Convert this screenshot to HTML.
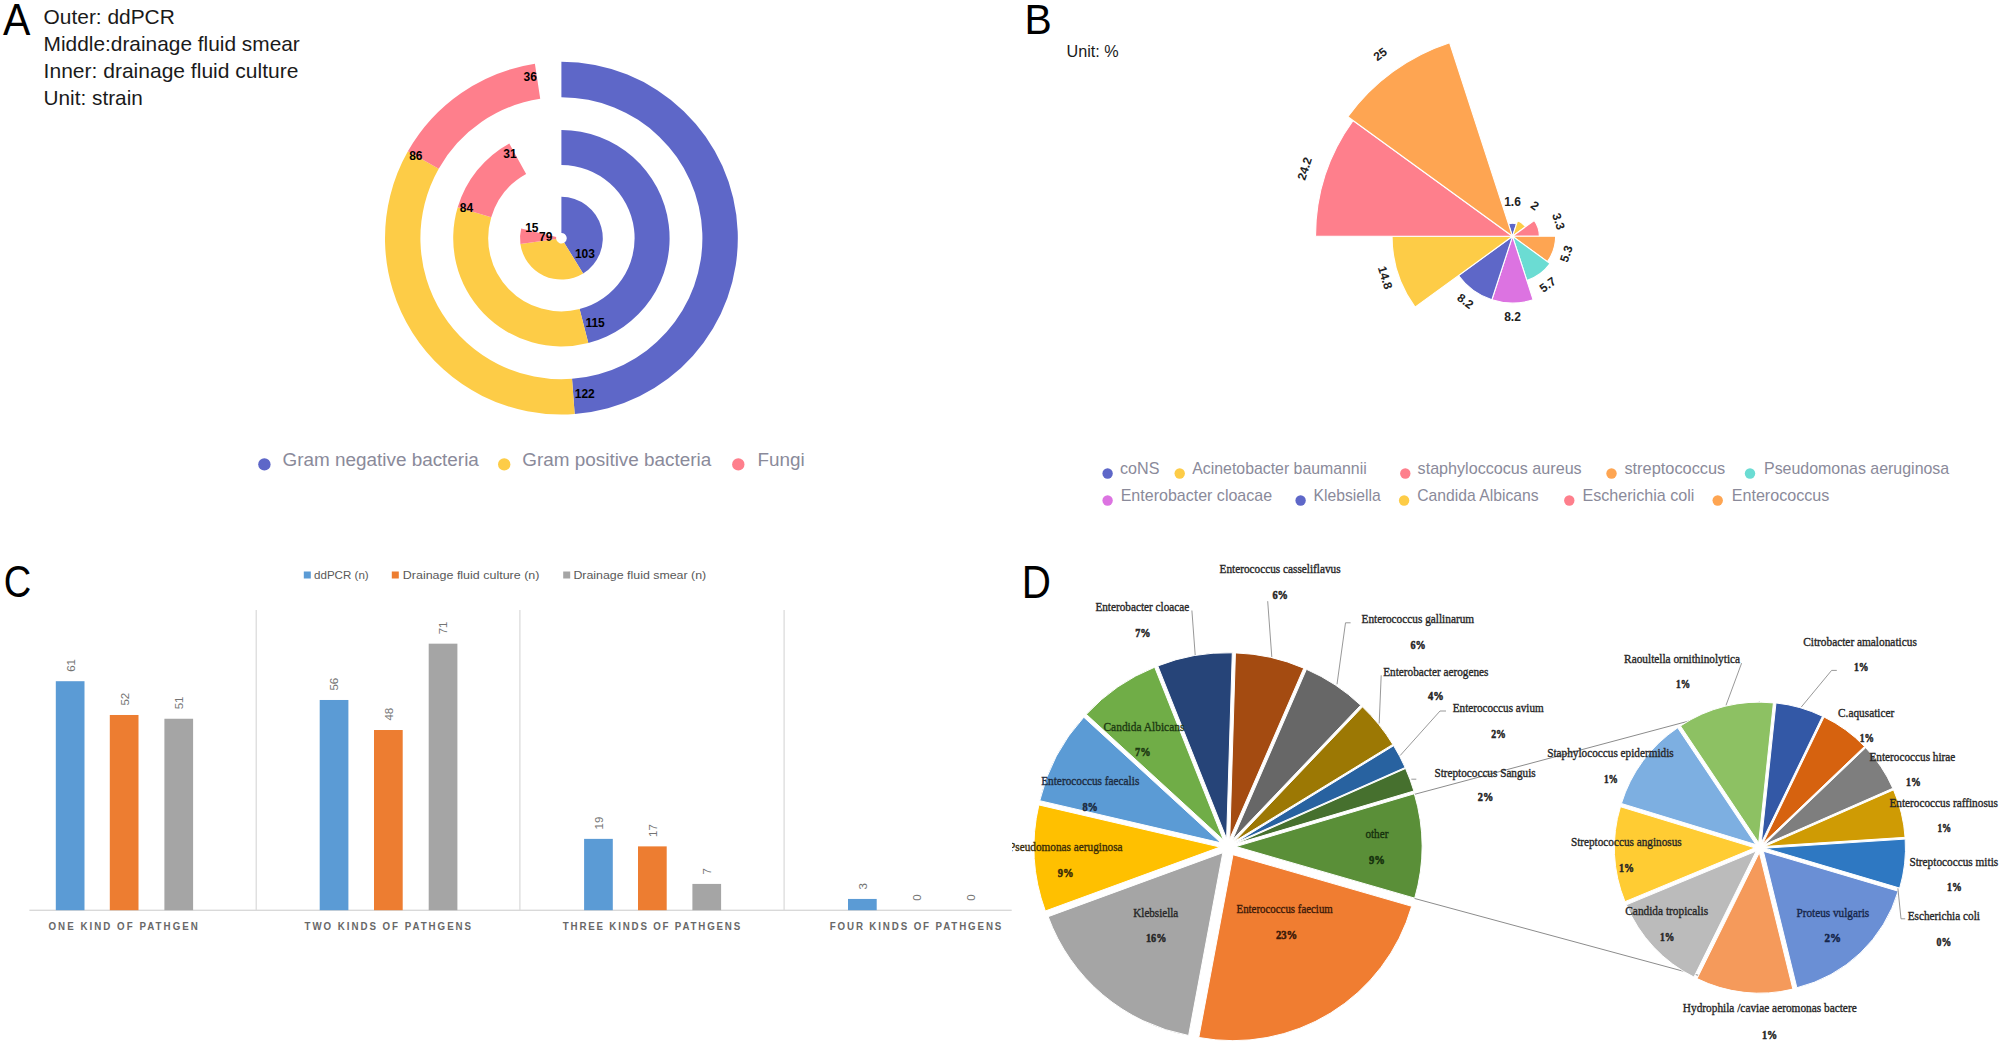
<!DOCTYPE html>
<html><head><meta charset="utf-8"><title>Figure</title>
<style>html,body{margin:0;padding:0;background:#fff;width:2002px;height:1046px;overflow:hidden}svg{display:block}</style>
</head><body>
<svg width="2002" height="1046" viewBox="0 0 2002 1046">
<rect width="2002" height="1046" fill="#fff"/>
<text x="0" y="0" font-size="44.64" fill="#000" font-family="'Liberation Sans',Arial,sans-serif" transform="translate(3 34.5) scale(0.92 1)">A</text>
<text x="43.6" y="23.7" font-size="20.8" fill="#1a1a1a" font-family="'Liberation Sans',Arial,sans-serif" textLength="131.2" lengthAdjust="spacingAndGlyphs">Outer: ddPCR</text>
<text x="43.6" y="51" font-size="20.8" fill="#1a1a1a" font-family="'Liberation Sans',Arial,sans-serif" textLength="256.2" lengthAdjust="spacingAndGlyphs">Middle:drainage fluid smear</text>
<text x="43.6" y="78.2" font-size="20.8" fill="#1a1a1a" font-family="'Liberation Sans',Arial,sans-serif" textLength="254.8" lengthAdjust="spacingAndGlyphs">Inner: drainage fluid culture</text>
<text x="43.6" y="105.3" font-size="20.8" fill="#1a1a1a" font-family="'Liberation Sans',Arial,sans-serif" textLength="99.2" lengthAdjust="spacingAndGlyphs">Unit: strain</text>
<path d="M561.4 196.8A41.4 41.4 0 0 1 583.14 273.43L564.18 242.71A5.3 5.3 0 0 0 561.4 232.9Z" fill="#5E67C8"/>
<path d="M583.14 273.43A41.4 41.4 0 0 1 520.39 243.9L556.15 238.93A5.3 5.3 0 0 0 564.18 242.71Z" fill="#FDCC47"/>
<path d="M520.39 243.9A41.4 41.4 0 0 1 521.17 228.41L556.25 236.95A5.3 5.3 0 0 0 556.15 238.93Z" fill="#FE7F8C"/>
<path d="M561.4 130A108.2 108.2 0 0 1 588.31 343L579.6 309.1A73.2 73.2 0 0 0 561.4 165Z" fill="#5E67C8"/>
<path d="M588.31 343A108.2 108.2 0 0 1 457.69 207.36L491.24 217.34A73.2 73.2 0 0 0 579.6 309.1Z" fill="#FDCC47"/>
<path d="M457.69 207.36A108.2 108.2 0 0 1 509.27 143.38L526.14 174.05A73.2 73.2 0 0 0 491.24 217.34Z" fill="#FE7F8C"/>
<path d="M561.4 61.8A176.4 176.4 0 0 1 574.69 414.1L572.02 378.8A141 141 0 0 0 561.4 97.2Z" fill="#5E67C8"/>
<path d="M574.69 414.1A176.4 176.4 0 0 1 407.9 151.28L438.7 168.73A141 141 0 0 0 572.02 378.8Z" fill="#FDCC47"/>
<path d="M407.9 151.28A176.4 176.4 0 0 1 534.9 63.8L540.22 98.8A141 141 0 0 0 438.7 168.73Z" fill="#FE7F8C"/>
<text x="530.25" y="81.4" font-size="12" fill="#000" font-family="'Liberation Sans',Arial,sans-serif" font-weight="bold" text-anchor="middle">36</text>
<text x="415.85" y="160.2" font-size="12" fill="#000" font-family="'Liberation Sans',Arial,sans-serif" font-weight="bold" text-anchor="middle">86</text>
<text x="510" y="158.4" font-size="12" fill="#000" font-family="'Liberation Sans',Arial,sans-serif" font-weight="bold" text-anchor="middle">31</text>
<text x="466.55" y="212.4" font-size="12" fill="#000" font-family="'Liberation Sans',Arial,sans-serif" font-weight="bold" text-anchor="middle">84</text>
<text x="584.9" y="258.3" font-size="12" fill="#000" font-family="'Liberation Sans',Arial,sans-serif" font-weight="bold" text-anchor="middle">103</text>
<text x="595.1" y="327.1" font-size="12" fill="#000" font-family="'Liberation Sans',Arial,sans-serif" font-weight="bold" text-anchor="middle">115</text>
<text x="584.75" y="397.5" font-size="12" fill="#000" font-family="'Liberation Sans',Arial,sans-serif" font-weight="bold" text-anchor="middle">122</text>
<text x="531.85" y="232.2" font-size="12" fill="#000" font-family="'Liberation Sans',Arial,sans-serif" font-weight="bold" text-anchor="middle">15</text>
<text x="545.65" y="241.3" font-size="12" fill="#000" font-family="'Liberation Sans',Arial,sans-serif" font-weight="bold" text-anchor="middle">79</text>
<circle cx="264.4" cy="464.4" r="6.2" fill="#5E67C8"/>
<text x="282.5" y="465.8" font-size="18.9" fill="#8a8a9a" font-family="'Liberation Sans',Arial,sans-serif">Gram negative bacteria</text>
<circle cx="504.2" cy="464.4" r="6.2" fill="#FDCC47"/>
<text x="522.3" y="465.8" font-size="18.9" fill="#8a8a9a" font-family="'Liberation Sans',Arial,sans-serif">Gram positive bacteria</text>
<circle cx="738.3" cy="464.4" r="6.2" fill="#FE7F8C"/>
<text x="757.5" y="465.8" font-size="18.9" fill="#8a8a9a" font-family="'Liberation Sans',Arial,sans-serif">Fungi</text>
<text x="0" y="0" font-size="42.17" fill="#000" font-family="'Liberation Sans',Arial,sans-serif" transform="translate(1024.52 33.8) scale(0.97 1)">B</text>
<text x="1066.5" y="57.4" font-size="16.2" fill="#1a1a1a" font-family="'Liberation Sans',Arial,sans-serif">Unit: %</text>
<path d="M1512.5 236.3L1508.48 223.91A13.02 13.02 0 0 1 1516.52 223.91Z" fill="#5E67C8" stroke="#fff" stroke-width="1.1" stroke-linejoin="round"/>
<path d="M1512.5 236.3L1517.53 220.82A16.28 16.28 0 0 1 1525.67 226.73Z" fill="#FDCC47" stroke="#fff" stroke-width="1.1" stroke-linejoin="round"/>
<path d="M1512.5 236.3L1534.23 220.51A26.86 26.86 0 0 1 1539.36 236.3Z" fill="#FE7F8C" stroke="#fff" stroke-width="1.1" stroke-linejoin="round"/>
<path d="M1512.5 236.3L1555.64 236.3A43.14 43.14 0 0 1 1547.4 261.66Z" fill="#FEA552" stroke="#fff" stroke-width="1.1" stroke-linejoin="round"/>
<path d="M1512.5 236.3L1550.04 263.57A46.4 46.4 0 0 1 1526.84 280.43Z" fill="#6BDCD3" stroke="#fff" stroke-width="1.1" stroke-linejoin="round"/>
<path d="M1512.5 236.3L1533.13 299.78A66.75 66.75 0 0 1 1491.87 299.78Z" fill="#DC73E1" stroke="#fff" stroke-width="1.1" stroke-linejoin="round"/>
<path d="M1512.5 236.3L1491.87 299.78A66.75 66.75 0 0 1 1458.5 275.53Z" fill="#5E67C8" stroke="#fff" stroke-width="1.1" stroke-linejoin="round"/>
<path d="M1512.5 236.3L1415.04 307.11A120.47 120.47 0 0 1 1392.03 236.3Z" fill="#FDCC47" stroke="#fff" stroke-width="1.1" stroke-linejoin="round"/>
<path d="M1512.5 236.3L1315.51 236.3A196.99 196.99 0 0 1 1353.13 120.51Z" fill="#FE7F8C" stroke="#fff" stroke-width="1.1" stroke-linejoin="round"/>
<path d="M1512.5 236.3L1347.87 116.69A203.5 203.5 0 0 1 1449.62 42.76Z" fill="#FEA552" stroke="#fff" stroke-width="1.1" stroke-linejoin="round"/>
<text x="0" y="0" font-size="12" font-weight="bold" fill="#222" font-family="'Liberation Sans',Arial,sans-serif" text-anchor="middle" transform="translate(1512.5 205.78) rotate(0)">1.6</text>
<text x="0" y="0" font-size="12" font-weight="bold" fill="#222" font-family="'Liberation Sans',Arial,sans-serif" text-anchor="middle" transform="translate(1532.36 208.97) rotate(36)">2</text>
<text x="0" y="0" font-size="12" font-weight="bold" fill="#222" font-family="'Liberation Sans',Arial,sans-serif" text-anchor="middle" transform="translate(1554.69 222.59) rotate(72)">3.3</text>
<text x="0" y="0" font-size="12" font-weight="bold" fill="#222" font-family="'Liberation Sans',Arial,sans-serif" text-anchor="middle" transform="translate(1570.17 255.04) rotate(-72)">5.3</text>
<text x="0" y="0" font-size="12" font-weight="bold" fill="#222" font-family="'Liberation Sans',Arial,sans-serif" text-anchor="middle" transform="translate(1550.06 287.99) rotate(-36)">5.7</text>
<text x="0" y="0" font-size="12" font-weight="bold" fill="#222" font-family="'Liberation Sans',Arial,sans-serif" text-anchor="middle" transform="translate(1512.5 320.55) rotate(0)">8.2</text>
<text x="0" y="0" font-size="12" font-weight="bold" fill="#222" font-family="'Liberation Sans',Arial,sans-serif" text-anchor="middle" transform="translate(1462.98 304.46) rotate(36)">8.2</text>
<text x="0" y="0" font-size="12" font-weight="bold" fill="#222" font-family="'Liberation Sans',Arial,sans-serif" text-anchor="middle" transform="translate(1381.28 278.94) rotate(72)">14.8</text>
<text x="0" y="0" font-size="12" font-weight="bold" fill="#222" font-family="'Liberation Sans',Arial,sans-serif" text-anchor="middle" transform="translate(1308.51 170.02) rotate(-72)">24.2</text>
<text x="0" y="0" font-size="12" font-weight="bold" fill="#222" font-family="'Liberation Sans',Arial,sans-serif" text-anchor="middle" transform="translate(1382.6 57.51) rotate(-36)">25</text>
<circle cx="1107.6" cy="473.5" r="5.2" fill="#5E67C8"/>
<text x="1120" y="474.3" font-size="15.9" fill="#8a8a9a" font-family="'Liberation Sans',Arial,sans-serif" textLength="39.4" lengthAdjust="spacingAndGlyphs">coNS</text>
<circle cx="1179.7" cy="473.5" r="5.2" fill="#FDCC47"/>
<text x="1192.3" y="474.3" font-size="15.9" fill="#8a8a9a" font-family="'Liberation Sans',Arial,sans-serif" textLength="174.4" lengthAdjust="spacingAndGlyphs">Acinetobacter baumannii</text>
<circle cx="1405.3" cy="473.5" r="5.2" fill="#FE7F8C"/>
<text x="1417.6" y="474.3" font-size="15.9" fill="#8a8a9a" font-family="'Liberation Sans',Arial,sans-serif" textLength="164.1" lengthAdjust="spacingAndGlyphs">staphyloccocus aureus</text>
<circle cx="1611.5" cy="473.5" r="5.2" fill="#FEA552"/>
<text x="1624.4" y="474.3" font-size="15.9" fill="#8a8a9a" font-family="'Liberation Sans',Arial,sans-serif" textLength="100.9" lengthAdjust="spacingAndGlyphs">streptococcus</text>
<circle cx="1750" cy="473.5" r="5.2" fill="#6BDCD3"/>
<text x="1764" y="474.3" font-size="15.9" fill="#8a8a9a" font-family="'Liberation Sans',Arial,sans-serif" textLength="185.2" lengthAdjust="spacingAndGlyphs">Pseudomonas aeruginosa</text>
<circle cx="1107.6" cy="500.5" r="5.2" fill="#DC73E1"/>
<text x="1120.7" y="501.3" font-size="15.9" fill="#8a8a9a" font-family="'Liberation Sans',Arial,sans-serif" textLength="151.4" lengthAdjust="spacingAndGlyphs">Enterobacter cloacae</text>
<circle cx="1300.6" cy="500.5" r="5.2" fill="#5E67C8"/>
<text x="1313.6" y="501.3" font-size="15.9" fill="#8a8a9a" font-family="'Liberation Sans',Arial,sans-serif" textLength="67.2" lengthAdjust="spacingAndGlyphs">Klebsiella</text>
<circle cx="1404.1" cy="500.5" r="5.2" fill="#FDCC47"/>
<text x="1417.2" y="501.3" font-size="15.9" fill="#8a8a9a" font-family="'Liberation Sans',Arial,sans-serif" textLength="121.4" lengthAdjust="spacingAndGlyphs">Candida Albicans</text>
<circle cx="1569.3" cy="500.5" r="5.2" fill="#FE7F8C"/>
<text x="1582.4" y="501.3" font-size="15.9" fill="#8a8a9a" font-family="'Liberation Sans',Arial,sans-serif" textLength="112" lengthAdjust="spacingAndGlyphs">Escherichia coli</text>
<circle cx="1717.7" cy="500.5" r="5.2" fill="#FEA552"/>
<text x="1731.7" y="501.3" font-size="15.9" fill="#8a8a9a" font-family="'Liberation Sans',Arial,sans-serif" textLength="97.7" lengthAdjust="spacingAndGlyphs">Enterococcus</text>
<text x="0" y="0" font-size="44.79" fill="#000" font-family="'Liberation Sans',Arial,sans-serif" transform="translate(3.79 597.35) scale(0.85 1)">C</text>
<rect x="303.8" y="571.5" width="7" height="7" fill="#5B9BD5"/>
<text x="314" y="579" font-size="11.8" fill="#595959" font-family="'Liberation Sans',Arial,sans-serif" textLength="54.7" lengthAdjust="spacingAndGlyphs">ddPCR (n)</text>
<rect x="391.8" y="571.5" width="7" height="7" fill="#ED7D31"/>
<text x="402.8" y="579" font-size="11.8" fill="#595959" font-family="'Liberation Sans',Arial,sans-serif" textLength="136.6" lengthAdjust="spacingAndGlyphs">Drainage fluid culture (n)</text>
<rect x="563.2" y="571.5" width="7" height="7" fill="#A5A5A5"/>
<text x="573.4" y="579" font-size="11.8" fill="#595959" font-family="'Liberation Sans',Arial,sans-serif" textLength="132.8" lengthAdjust="spacingAndGlyphs">Drainage fluid smear (n)</text>
<rect x="255.6" y="610" width="1.2" height="300.5" fill="#D9D9D9"/>
<rect x="519.3" y="610" width="1.2" height="300.5" fill="#D9D9D9"/>
<rect x="783.5" y="610" width="1.2" height="300.5" fill="#D9D9D9"/>
<rect x="29.4" y="909.6" width="982.3" height="1.4" fill="#D9D9D9"/>
<rect x="55.8" y="681.21" width="28.7" height="228.99" fill="#5B9BD5"/>
<text x="74.55" y="671.81" font-size="11.5" fill="#747474" font-family="'Liberation Sans',Arial,sans-serif" text-anchor="start" transform="rotate(-90 74.55 671.81)">61</text>
<rect x="109.8" y="714.99" width="28.7" height="195.21" fill="#ED7D31"/>
<text x="128.55" y="705.59" font-size="11.5" fill="#747474" font-family="'Liberation Sans',Arial,sans-serif" text-anchor="start" transform="rotate(-90 128.55 705.59)">52</text>
<rect x="164.4" y="718.75" width="28.7" height="191.45" fill="#A5A5A5"/>
<text x="183.15" y="709.35" font-size="11.5" fill="#747474" font-family="'Liberation Sans',Arial,sans-serif" text-anchor="start" transform="rotate(-90 183.15 709.35)">51</text>
<rect x="319.7" y="699.98" width="28.7" height="210.22" fill="#5B9BD5"/>
<text x="338.45" y="690.58" font-size="11.5" fill="#747474" font-family="'Liberation Sans',Arial,sans-serif" text-anchor="start" transform="rotate(-90 338.45 690.58)">56</text>
<rect x="374" y="730.01" width="28.7" height="180.19" fill="#ED7D31"/>
<text x="392.75" y="720.61" font-size="11.5" fill="#747474" font-family="'Liberation Sans',Arial,sans-serif" text-anchor="start" transform="rotate(-90 392.75 720.61)">48</text>
<rect x="428.7" y="643.67" width="28.7" height="266.53" fill="#A5A5A5"/>
<text x="447.45" y="634.27" font-size="11.5" fill="#747474" font-family="'Liberation Sans',Arial,sans-serif" text-anchor="start" transform="rotate(-90 447.45 634.27)">71</text>
<rect x="584.1" y="838.87" width="28.7" height="71.33" fill="#5B9BD5"/>
<text x="602.85" y="829.47" font-size="11.5" fill="#747474" font-family="'Liberation Sans',Arial,sans-serif" text-anchor="start" transform="rotate(-90 602.85 829.47)">19</text>
<rect x="638" y="846.38" width="28.7" height="63.82" fill="#ED7D31"/>
<text x="656.75" y="836.98" font-size="11.5" fill="#747474" font-family="'Liberation Sans',Arial,sans-serif" text-anchor="start" transform="rotate(-90 656.75 836.98)">17</text>
<rect x="692.4" y="883.92" width="28.7" height="26.28" fill="#A5A5A5"/>
<text x="711.15" y="874.52" font-size="11.5" fill="#747474" font-family="'Liberation Sans',Arial,sans-serif" text-anchor="start" transform="rotate(-90 711.15 874.52)">7</text>
<rect x="848" y="898.94" width="28.7" height="11.26" fill="#5B9BD5"/>
<text x="866.75" y="889.54" font-size="11.5" fill="#747474" font-family="'Liberation Sans',Arial,sans-serif" text-anchor="start" transform="rotate(-90 866.75 889.54)">3</text>
<text x="921.05" y="900.8" font-size="11.5" fill="#747474" font-family="'Liberation Sans',Arial,sans-serif" text-anchor="start" transform="rotate(-90 921.05 900.8)">0</text>
<text x="975.35" y="900.8" font-size="11.5" fill="#747474" font-family="'Liberation Sans',Arial,sans-serif" text-anchor="start" transform="rotate(-90 975.35 900.8)">0</text>
<text x="0" y="0" font-size="11.6" font-weight="bold" fill="#686868" font-family="'Liberation Sans',Arial,sans-serif" textLength="177.74" lengthAdjust="spacing" transform="translate(48.5 929.8) scale(0.84 1)">ONE KIND OF PATHGEN</text>
<text x="0" y="0" font-size="11.6" font-weight="bold" fill="#686868" font-family="'Liberation Sans',Arial,sans-serif" textLength="198.33" lengthAdjust="spacing" transform="translate(304.5 929.8) scale(0.84 1)">TWO KINDS OF PATHGENS</text>
<text x="0" y="0" font-size="11.6" font-weight="bold" fill="#686868" font-family="'Liberation Sans',Arial,sans-serif" textLength="211.19" lengthAdjust="spacing" transform="translate(562.8 929.8) scale(0.84 1)">THREE KINDS OF PATHGENS</text>
<text x="0" y="0" font-size="11.6" font-weight="bold" fill="#686868" font-family="'Liberation Sans',Arial,sans-serif" textLength="204.29" lengthAdjust="spacing" transform="translate(829.7 929.8) scale(0.84 1)">FOUR KINDS OF PATHGENS</text>
<text x="0" y="0" font-size="45.36" fill="#000" font-family="'Liberation Sans',Arial,sans-serif" transform="translate(1021.86 597.5) scale(0.89 1)">D</text>
<defs><clipPath id="dclip"><rect x="1012" y="540" width="990" height="506"/></clipPath></defs>
<g clip-path="url(#dclip)">
<line x1="1414.3" y1="794.4" x2="1760" y2="702" stroke="#8c8c8c" stroke-width="1"/>
<line x1="1414.3" y1="898.4" x2="1760" y2="992" stroke="#8c8c8c" stroke-width="1"/>
<path d="M1229.75 838.79L1235.43 652.88A186 186 0 0 1 1303.76 668.15Z" fill="#A44B11" stroke="#fff" stroke-width="1" stroke-linejoin="miter"/>
<path d="M1232.42 839.93L1306.44 669.29A186 186 0 0 1 1360.69 705.23Z" fill="#676767" stroke="#fff" stroke-width="1" stroke-linejoin="miter"/>
<path d="M1234.22 841.57L1362.49 706.87A186 186 0 0 1 1392.81 744.39Z" fill="#9C7804" stroke="#fff" stroke-width="1" stroke-linejoin="miter"/>
<path d="M1235.08 842.88L1393.67 745.7A186 186 0 0 1 1405.13 767.52Z" fill="#2862A0" stroke="#fff" stroke-width="1" stroke-linejoin="miter"/>
<path d="M1235.51 843.84L1405.56 768.48A186 186 0 0 1 1413.85 791.01Z" fill="#46702E" stroke="#fff" stroke-width="1" stroke-linejoin="miter"/>
<path d="M1236 846.57L1414.34 793.75A186 186 0 0 1 1414.7 898.15Z" fill="#5A8F38" stroke="#fff" stroke-width="1" stroke-linejoin="miter"/>
<path d="M1232.98 854.69L1411.69 906.27A186 186 0 0 1 1198.77 1037.51Z" fill="#F07D31" stroke="#fff" stroke-width="1" stroke-linejoin="miter"/>
<path d="M1222.83 852.71L1188.62 1035.53A186 186 0 0 1 1048.16 916.63Z" fill="#A5A5A5" stroke="#fff" stroke-width="1" stroke-linejoin="miter"/>
<path d="M1220.01 847.09L1045.34 911.01A186 186 0 0 1 1038.86 804.93Z" fill="#FFC000" stroke="#fff" stroke-width="1" stroke-linejoin="miter"/>
<path d="M1220.92 842.87L1039.76 800.71A186 186 0 0 1 1083.79 717.21Z" fill="#5B9BD5" stroke="#fff" stroke-width="1" stroke-linejoin="miter"/>
<path d="M1223.46 840.01L1086.32 714.36A186 186 0 0 1 1154.68 667.2Z" fill="#70AD47" stroke="#fff" stroke-width="1" stroke-linejoin="miter"/>
<path d="M1226.61 838.72L1157.84 665.9A186 186 0 0 1 1232.29 652.81Z" fill="#264478" stroke="#fff" stroke-width="1" stroke-linejoin="miter"/>
<path d="M1758.7 842.75L1680.48 725.91A140.6 140.6 0 0 1 1773.4 702.92Z" fill="#8DC163" stroke="#fff" stroke-width="1" stroke-linejoin="miter"/>
<path d="M1761.27 842.79L1775.97 702.96A140.6 140.6 0 0 1 1822.46 716.21Z" fill="#3358A6" stroke="#fff" stroke-width="1" stroke-linejoin="miter"/>
<path d="M1762.84 843.56L1824.04 716.97A140.6 140.6 0 0 1 1864.49 746.42Z" fill="#D6620F" stroke="#fff" stroke-width="1" stroke-linejoin="miter"/>
<path d="M1764.06 844.83L1865.71 747.69A140.6 140.6 0 0 1 1892.8 788.31Z" fill="#7E7E7E" stroke="#fff" stroke-width="1" stroke-linejoin="miter"/>
<path d="M1764.76 846.42L1893.5 789.9A140.6 140.6 0 0 1 1905.06 837.34Z" fill="#CF9B04" stroke="#fff" stroke-width="1" stroke-linejoin="miter"/>
<path d="M1764.87 848.16L1905.18 839.08A140.6 140.6 0 0 1 1899.68 888.09Z" fill="#2E78C2" stroke="#fff" stroke-width="1" stroke-linejoin="miter"/>
<path d="M1763.35 851.22L1898.16 891.15A140.6 140.6 0 0 1 1796.89 987.76Z" fill="#6A8FD5" stroke="#fff" stroke-width="1" stroke-linejoin="miter"/>
<path d="M1759.36 852.57L1792.89 989.11A140.6 140.6 0 0 1 1697.06 978.62Z" fill="#F59A5B" stroke="#fff" stroke-width="1" stroke-linejoin="miter"/>
<path d="M1756.25 851.02L1693.95 977.06A140.6 140.6 0 0 1 1626.35 904.82Z" fill="#BBBBBB" stroke="#fff" stroke-width="1" stroke-linejoin="miter"/>
<path d="M1754.91 847.84L1625.01 901.65A140.6 140.6 0 0 1 1620.45 806.73Z" fill="#FFCC33" stroke="#fff" stroke-width="1" stroke-linejoin="miter"/>
<path d="M1755.89 844.62L1621.43 803.51A140.6 140.6 0 0 1 1677.67 727.78Z" fill="#7DAFE1" stroke="#fff" stroke-width="1" stroke-linejoin="miter"/>
<polyline points="1191.9,610.5 1195.2,655" fill="none" stroke="#8c8c8c" stroke-width="0.9"/>
<polyline points="1267.7,601.2 1271.8,657" fill="none" stroke="#8c8c8c" stroke-width="0.9"/>
<polyline points="1350.6,622.8 1345.5,622.8 1337,684.3" fill="none" stroke="#8c8c8c" stroke-width="0.9"/>
<polyline points="1381.2,675.3 1379.2,723.4" fill="none" stroke="#8c8c8c" stroke-width="0.9"/>
<polyline points="1446,711 1440,711 1400.2,755.5" fill="none" stroke="#8c8c8c" stroke-width="0.9"/>
<polyline points="1411.3,779.2 1416.3,779.2" fill="none" stroke="#8c8c8c" stroke-width="0.9"/>
<polyline points="1741.6,663.2 1726,705.3" fill="none" stroke="#8c8c8c" stroke-width="0.9"/>
<polyline points="1836.8,670.4 1831.6,670.4 1801.3,707" fill="none" stroke="#8c8c8c" stroke-width="0.9"/>
<polyline points="1897.9,888.3 1901,918.8 1905.2,918.8" fill="none" stroke="#8c8c8c" stroke-width="0.9"/>
<text x="1095.4" y="610.8" font-size="12.3" fill="#262626" font-family="'Liberation Serif','Times New Roman',serif" textLength="93.9" lengthAdjust="spacingAndGlyphs" stroke="#262626" stroke-width="0.35">Enterobacter cloacae</text>
<text x="1135.2" y="636.9" font-size="12" fill="#262626" font-family="'Liberation Serif','Times New Roman',serif" font-weight="bold" textLength="15.4" lengthAdjust="spacingAndGlyphs" stroke="#262626" stroke-width="0.5">7%</text>
<text x="1219.5" y="573.4" font-size="12.3" fill="#262626" font-family="'Liberation Serif','Times New Roman',serif" textLength="121.1" lengthAdjust="spacingAndGlyphs" stroke="#262626" stroke-width="0.35">Enterococcus casseliflavus</text>
<text x="1272.4" y="599.3" font-size="12" fill="#262626" font-family="'Liberation Serif','Times New Roman',serif" font-weight="bold" textLength="15.6" lengthAdjust="spacingAndGlyphs" stroke="#262626" stroke-width="0.5">6%</text>
<text x="1361.5" y="623.3" font-size="12.3" fill="#262626" font-family="'Liberation Serif','Times New Roman',serif" textLength="112.6" lengthAdjust="spacingAndGlyphs" stroke="#262626" stroke-width="0.35">Enterococcus gallinarum</text>
<text x="1410.4" y="649" font-size="12" fill="#262626" font-family="'Liberation Serif','Times New Roman',serif" font-weight="bold" textLength="15.2" lengthAdjust="spacingAndGlyphs" stroke="#262626" stroke-width="0.5">6%</text>
<text x="1383.2" y="675.9" font-size="12.3" fill="#262626" font-family="'Liberation Serif','Times New Roman',serif" textLength="105.3" lengthAdjust="spacingAndGlyphs" stroke="#262626" stroke-width="0.35">Enterobacter aerogenes</text>
<text x="1428" y="700.3" font-size="12" fill="#262626" font-family="'Liberation Serif','Times New Roman',serif" font-weight="bold" textLength="15.7" lengthAdjust="spacingAndGlyphs" stroke="#262626" stroke-width="0.5">4%</text>
<text x="1452.8" y="712.4" font-size="12.3" fill="#262626" font-family="'Liberation Serif','Times New Roman',serif" textLength="90.9" lengthAdjust="spacingAndGlyphs" stroke="#262626" stroke-width="0.35">Enterococcus avium</text>
<text x="1491.2" y="738" font-size="12" fill="#262626" font-family="'Liberation Serif','Times New Roman',serif" font-weight="bold" textLength="14.7" lengthAdjust="spacingAndGlyphs" stroke="#262626" stroke-width="0.5">2%</text>
<text x="1434.4" y="776.6" font-size="12.3" fill="#262626" font-family="'Liberation Serif','Times New Roman',serif" textLength="101.3" lengthAdjust="spacingAndGlyphs" stroke="#262626" stroke-width="0.35">Streptococcus Sanguis</text>
<text x="1477.8" y="801.3" font-size="12" fill="#262626" font-family="'Liberation Serif','Times New Roman',serif" font-weight="bold" textLength="15.5" lengthAdjust="spacingAndGlyphs" stroke="#262626" stroke-width="0.5">2%</text>
<text x="1365.4" y="838.3" font-size="12.3" fill="#15300c" font-family="'Liberation Serif','Times New Roman',serif" textLength="23" lengthAdjust="spacingAndGlyphs" stroke="#15300c" stroke-width="0.35">other</text>
<text x="1369" y="864" font-size="12" fill="#15300c" font-family="'Liberation Serif','Times New Roman',serif" font-weight="bold" textLength="15.9" lengthAdjust="spacingAndGlyphs" stroke="#15300c" stroke-width="0.5">9%</text>
<text x="1236.5" y="913.3" font-size="12.3" fill="#3d1a08" font-family="'Liberation Serif','Times New Roman',serif" textLength="96.3" lengthAdjust="spacingAndGlyphs" stroke="#3d1a08" stroke-width="0.35">Enterococcus faecium</text>
<text x="1275.9" y="938.7" font-size="12" fill="#3d1a08" font-family="'Liberation Serif','Times New Roman',serif" font-weight="bold" textLength="21.4" lengthAdjust="spacingAndGlyphs" stroke="#3d1a08" stroke-width="0.5">23%</text>
<text x="1133.3" y="916.8" font-size="12.3" fill="#262626" font-family="'Liberation Serif','Times New Roman',serif" textLength="45" lengthAdjust="spacingAndGlyphs" stroke="#262626" stroke-width="0.35">Klebsiella</text>
<text x="1146" y="941.9" font-size="12" fill="#262626" font-family="'Liberation Serif','Times New Roman',serif" font-weight="bold" textLength="20.4" lengthAdjust="spacingAndGlyphs" stroke="#262626" stroke-width="0.5">16%</text>
<text x="1009" y="850.8" font-size="12.3" fill="#3a2c08" font-family="'Liberation Serif','Times New Roman',serif" textLength="113.6" lengthAdjust="spacingAndGlyphs" stroke="#3a2c08" stroke-width="0.35">Pseudomonas aeruginosa</text>
<text x="1057.8" y="876.6" font-size="12" fill="#3a2c08" font-family="'Liberation Serif','Times New Roman',serif" font-weight="bold" textLength="15.8" lengthAdjust="spacingAndGlyphs" stroke="#3a2c08" stroke-width="0.5">9%</text>
<text x="1041.2" y="785.4" font-size="12.3" fill="#1c2b40" font-family="'Liberation Serif','Times New Roman',serif" textLength="98.1" lengthAdjust="spacingAndGlyphs" stroke="#1c2b40" stroke-width="0.35">Enterococcus faecalis</text>
<text x="1082.4" y="811.2" font-size="12" fill="#1c2b40" font-family="'Liberation Serif','Times New Roman',serif" font-weight="bold" textLength="15.4" lengthAdjust="spacingAndGlyphs" stroke="#1c2b40" stroke-width="0.5">8%</text>
<text x="1103.5" y="730.9" font-size="12.3" fill="#1d3a12" font-family="'Liberation Serif','Times New Roman',serif" textLength="80.9" lengthAdjust="spacingAndGlyphs" stroke="#1d3a12" stroke-width="0.35">Candida Albicans</text>
<text x="1135" y="756.3" font-size="12" fill="#1d3a12" font-family="'Liberation Serif','Times New Roman',serif" font-weight="bold" textLength="15.5" lengthAdjust="spacingAndGlyphs" stroke="#1d3a12" stroke-width="0.5">7%</text>
<text x="1624.1" y="662.6" font-size="12.3" fill="#262626" font-family="'Liberation Serif','Times New Roman',serif" textLength="116" lengthAdjust="spacingAndGlyphs" stroke="#262626" stroke-width="0.35">Raoultella ornithinolytica</text>
<text x="1676" y="688.3" font-size="12" fill="#262626" font-family="'Liberation Serif','Times New Roman',serif" font-weight="bold" textLength="14.1" lengthAdjust="spacingAndGlyphs" stroke="#262626" stroke-width="0.5">1%</text>
<text x="1803.2" y="645.6" font-size="12.3" fill="#262626" font-family="'Liberation Serif','Times New Roman',serif" textLength="113.6" lengthAdjust="spacingAndGlyphs" stroke="#262626" stroke-width="0.35">Citrobacter amalonaticus</text>
<text x="1853.9" y="671.2" font-size="12" fill="#262626" font-family="'Liberation Serif','Times New Roman',serif" font-weight="bold" textLength="14.6" lengthAdjust="spacingAndGlyphs" stroke="#262626" stroke-width="0.5">1%</text>
<text x="1838.1" y="716.6" font-size="12.3" fill="#262626" font-family="'Liberation Serif','Times New Roman',serif" textLength="56.1" lengthAdjust="spacingAndGlyphs" stroke="#262626" stroke-width="0.35">C.aqusaticer</text>
<text x="1859.7" y="742.4" font-size="12" fill="#262626" font-family="'Liberation Serif','Times New Roman',serif" font-weight="bold" textLength="14.2" lengthAdjust="spacingAndGlyphs" stroke="#262626" stroke-width="0.5">1%</text>
<text x="1869.5" y="760.6" font-size="12.3" fill="#262626" font-family="'Liberation Serif','Times New Roman',serif" textLength="85.8" lengthAdjust="spacingAndGlyphs" stroke="#262626" stroke-width="0.35">Enterococcus hirae</text>
<text x="1906" y="786.3" font-size="12" fill="#262626" font-family="'Liberation Serif','Times New Roman',serif" font-weight="bold" textLength="14.7" lengthAdjust="spacingAndGlyphs" stroke="#262626" stroke-width="0.5">1%</text>
<text x="1889.4" y="806.9" font-size="12.3" fill="#262626" font-family="'Liberation Serif','Times New Roman',serif" textLength="108.4" lengthAdjust="spacingAndGlyphs" stroke="#262626" stroke-width="0.35">Enterococcus raffinosus</text>
<text x="1937.5" y="831.9" font-size="12" fill="#262626" font-family="'Liberation Serif','Times New Roman',serif" font-weight="bold" textLength="13.7" lengthAdjust="spacingAndGlyphs" stroke="#262626" stroke-width="0.5">1%</text>
<text x="1909.4" y="866.2" font-size="12.3" fill="#262626" font-family="'Liberation Serif','Times New Roman',serif" textLength="88.8" lengthAdjust="spacingAndGlyphs" stroke="#262626" stroke-width="0.35">Streptococcus mitis</text>
<text x="1947" y="891.1" font-size="12" fill="#262626" font-family="'Liberation Serif','Times New Roman',serif" font-weight="bold" textLength="14.7" lengthAdjust="spacingAndGlyphs" stroke="#262626" stroke-width="0.5">1%</text>
<text x="1907.7" y="919.9" font-size="12.3" fill="#262626" font-family="'Liberation Serif','Times New Roman',serif" textLength="72.2" lengthAdjust="spacingAndGlyphs" stroke="#262626" stroke-width="0.35">Escherichia coli</text>
<text x="1936.5" y="945.8" font-size="12" fill="#262626" font-family="'Liberation Serif','Times New Roman',serif" font-weight="bold" textLength="14.7" lengthAdjust="spacingAndGlyphs" stroke="#262626" stroke-width="0.5">0%</text>
<text x="1547.2" y="757.2" font-size="12.3" fill="#262626" font-family="'Liberation Serif','Times New Roman',serif" textLength="126.5" lengthAdjust="spacingAndGlyphs" stroke="#262626" stroke-width="0.35">Staphylococcus epidermidis</text>
<text x="1603.9" y="783.4" font-size="12" fill="#262626" font-family="'Liberation Serif','Times New Roman',serif" font-weight="bold" textLength="14" lengthAdjust="spacingAndGlyphs" stroke="#262626" stroke-width="0.5">1%</text>
<text x="1570.9" y="845.8" font-size="12.3" fill="#262626" font-family="'Liberation Serif','Times New Roman',serif" textLength="110.8" lengthAdjust="spacingAndGlyphs" stroke="#262626" stroke-width="0.35">Streptococcus anginosus</text>
<text x="1619" y="871.6" font-size="12" fill="#262626" font-family="'Liberation Serif','Times New Roman',serif" font-weight="bold" textLength="15" lengthAdjust="spacingAndGlyphs" stroke="#262626" stroke-width="0.5">1%</text>
<text x="1625.3" y="915.3" font-size="12.3" fill="#262626" font-family="'Liberation Serif','Times New Roman',serif" textLength="82.8" lengthAdjust="spacingAndGlyphs" stroke="#262626" stroke-width="0.35">Candida tropicalis</text>
<text x="1659.9" y="940.5" font-size="12" fill="#262626" font-family="'Liberation Serif','Times New Roman',serif" font-weight="bold" textLength="14.4" lengthAdjust="spacingAndGlyphs" stroke="#262626" stroke-width="0.5">1%</text>
<text x="1796.5" y="916.7" font-size="12.3" fill="#16264a" font-family="'Liberation Serif','Times New Roman',serif" textLength="72.7" lengthAdjust="spacingAndGlyphs" stroke="#16264a" stroke-width="0.35">Proteus vulgaris</text>
<text x="1824.5" y="942.2" font-size="12" fill="#16264a" font-family="'Liberation Serif','Times New Roman',serif" font-weight="bold" textLength="16.5" lengthAdjust="spacingAndGlyphs" stroke="#16264a" stroke-width="0.5">2%</text>
<text x="1682.8" y="1012.2" font-size="12.3" fill="#262626" font-family="'Liberation Serif','Times New Roman',serif" textLength="173.9" lengthAdjust="spacingAndGlyphs" stroke="#262626" stroke-width="0.35">Hydrophila /caviae aeromonas bactere</text>
<text x="1762" y="1038.9" font-size="12" fill="#262626" font-family="'Liberation Serif','Times New Roman',serif" font-weight="bold" textLength="15.3" lengthAdjust="spacingAndGlyphs" stroke="#262626" stroke-width="0.5">1%</text>
</g>
</svg>
</body></html>
